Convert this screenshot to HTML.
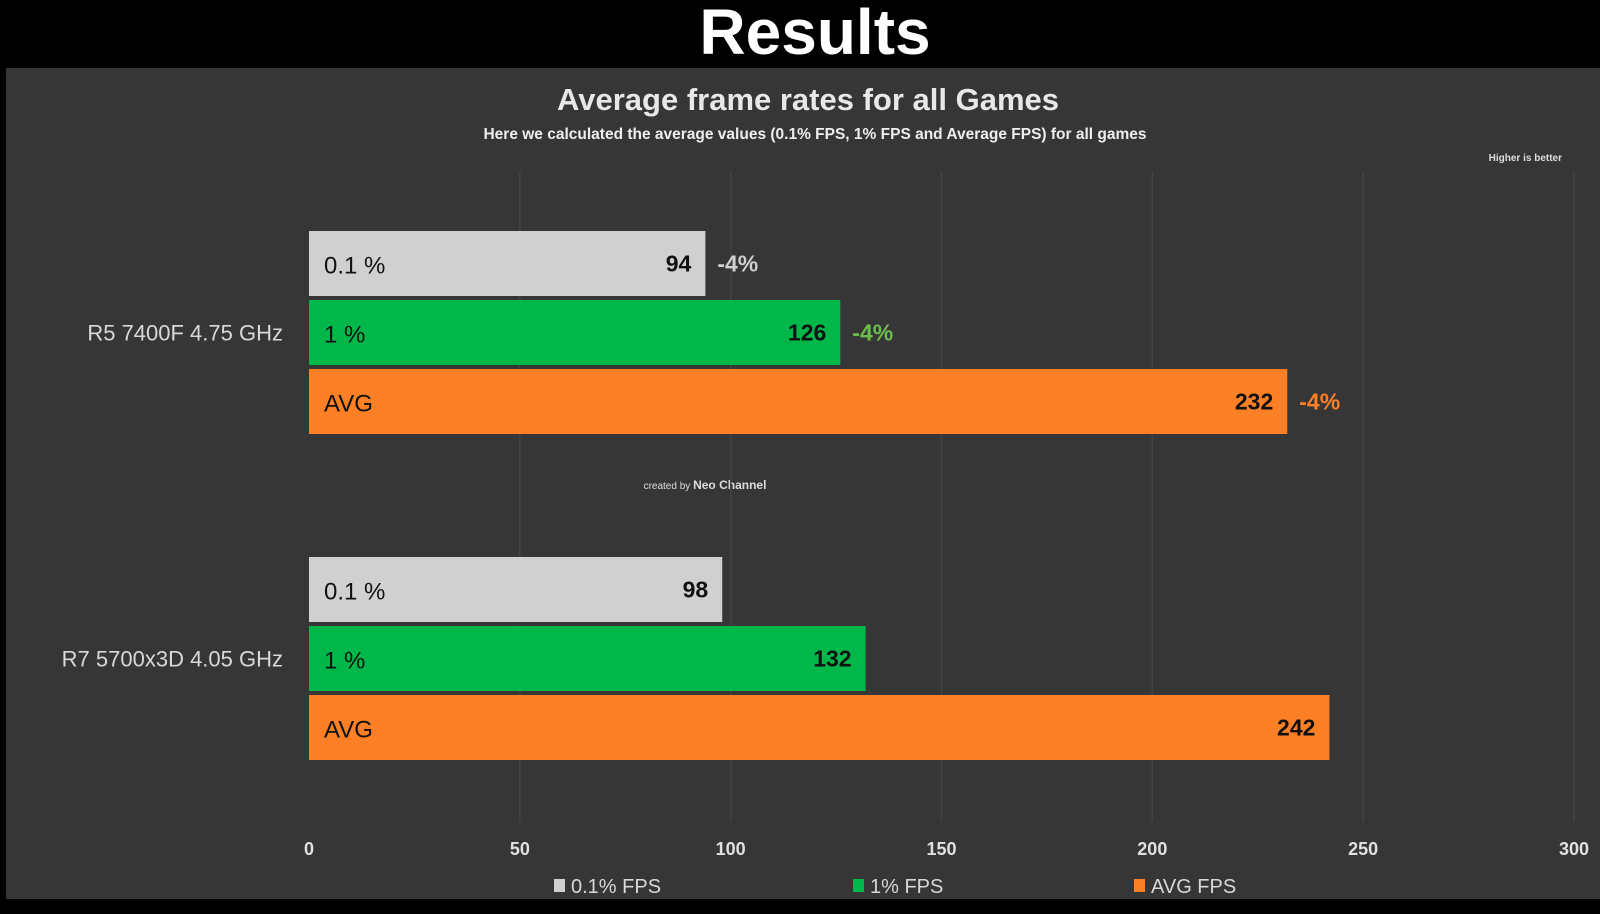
<!DOCTYPE html>
<html><head><meta charset="utf-8"><style>
html,body{margin:0;padding:0;background:#000;width:1600px;height:914px;overflow:hidden}
svg{display:block}
text{font-family:"Liberation Sans Narrow","Liberation Sans",sans-serif}
</style></head><body>
<svg id="chart" width="1600" height="914">
<rect x="0" y="0" width="1600" height="914" fill="#000"/>
<text x="815" y="54" text-anchor="middle" font-size="64" font-weight="bold" fill="#fff" style="font-family:'Liberation Sans',sans-serif">Results</text>
<rect x="6" y="68" width="1594" height="831" fill="#363636"/>
<text x="808" y="110" text-anchor="middle" font-size="31" font-weight="bold" fill="#e8e8e8">Average frame rates for all Games</text>
<text x="815" y="139" text-anchor="middle" font-size="15.5" font-weight="bold" fill="#eee">Here we calculated the average values (0.1% FPS, 1% FPS and Average FPS) for all games</text>
<text x="1562" y="161" text-anchor="end" font-size="10" font-weight="bold" fill="#ddd">Higher is better</text>
<text x="705" y="489" text-anchor="middle" font-size="10" fill="#ddd">created by <tspan font-weight="bold" font-size="12">Neo Channel</tspan></text>
<g id="grid"></g><g id="bars"></g><g id="axis"></g><g id="legend"></g>
</svg>
<script>
const ticks=[0,50,100,150,200,250,300];
const cpus=["R5  7400F   4.75 GHz","R7  5700x3D  4.05 GHz"];
const series=["0.1 %","1 %","AVG"];
const legendLabels=["0.1%  FPS","1%  FPS","AVG  FPS"];
const v01=[94,98];
const v1=[126,132];
const vavg=[232,242];
const deltas=[["-4%","-4%","-4%"],[null,null,null]];
const colors=["#d0d0d0","#00b84a","#fd7f26"];
const deltaColors=["#d0d0d0","#6cc04a","#fd7f26"];
const NS="http://www.w3.org/2000/svg";
const X0=309,X1=1574;
const xs=v=>X0+(X1-X0)*v/300;
function mk(tag,attrs,parent,txt){const e=document.createElementNS(NS,tag);for(const k in attrs)e.setAttribute(k,attrs[k]);if(txt!=null)e.textContent=txt;parent.appendChild(e);return e;}
const grid=document.getElementById('grid'),bars=document.getElementById('bars'),axis=document.getElementById('axis'),legend=document.getElementById('legend');
ticks.forEach(t=>{
 if(t>0){const l=mk('line',{x1:xs(t),x2:xs(t),y1:172,y2:822,stroke:'#434343','stroke-width':1.5},grid);
 
 }
 const tx=mk('text',{x:xs(t),y:855,'text-anchor':'middle','font-size':18,'font-weight':'bold',fill:'#e0e0e0'},axis,String(t));
 
 
});
const vals=[v01,v1,vavg];
const groupTop=[231,557],bh=65,step=69;
cpus.forEach((c,g)=>{
 const lab=mk('text',{x:283,y:groupTop[g]+step+bh/2+8,'text-anchor':'end','font-size':22,fill:'#d8d8d8'},axis,c);
 
 
 series.forEach((s,i)=>{
  const y=groupTop[g]+i*step,v=vals[i][g];
  const r=mk('rect',{x:X0,y:y,width:xs(v)-X0,height:bh,fill:colors[i]},bars);
  
  
  const sl=mk('text',{x:X0+15,y:y+bh/2+10,'font-size':24,fill:'#111'},bars,s);
  
  
  const vl=mk('text',{x:xs(v)-14,y:y+bh/2+8,'text-anchor':'end','font-size':23,'font-weight':'bold',fill:'#111'},bars,String(v));
  
  
  const d=deltas[g][i];
  if(d){const dl=mk('text',{x:xs(v)+12,y:y+bh/2+8,'font-size':23,'font-weight':'bold',fill:deltaColors[i]},bars,d);
  
  }
 });
});
const lx=[554,853,1134];
legendLabels.forEach((l,i)=>{
 const sq=mk('rect',{x:lx[i],y:879,width:11,height:13,fill:colors[i]},legend);
 
 
 const t=mk('text',{x:lx[i]+17,y:893,'font-size':20,fill:'#d8d8d8'},legend,l);
 
 
});
</script>
</body></html>
